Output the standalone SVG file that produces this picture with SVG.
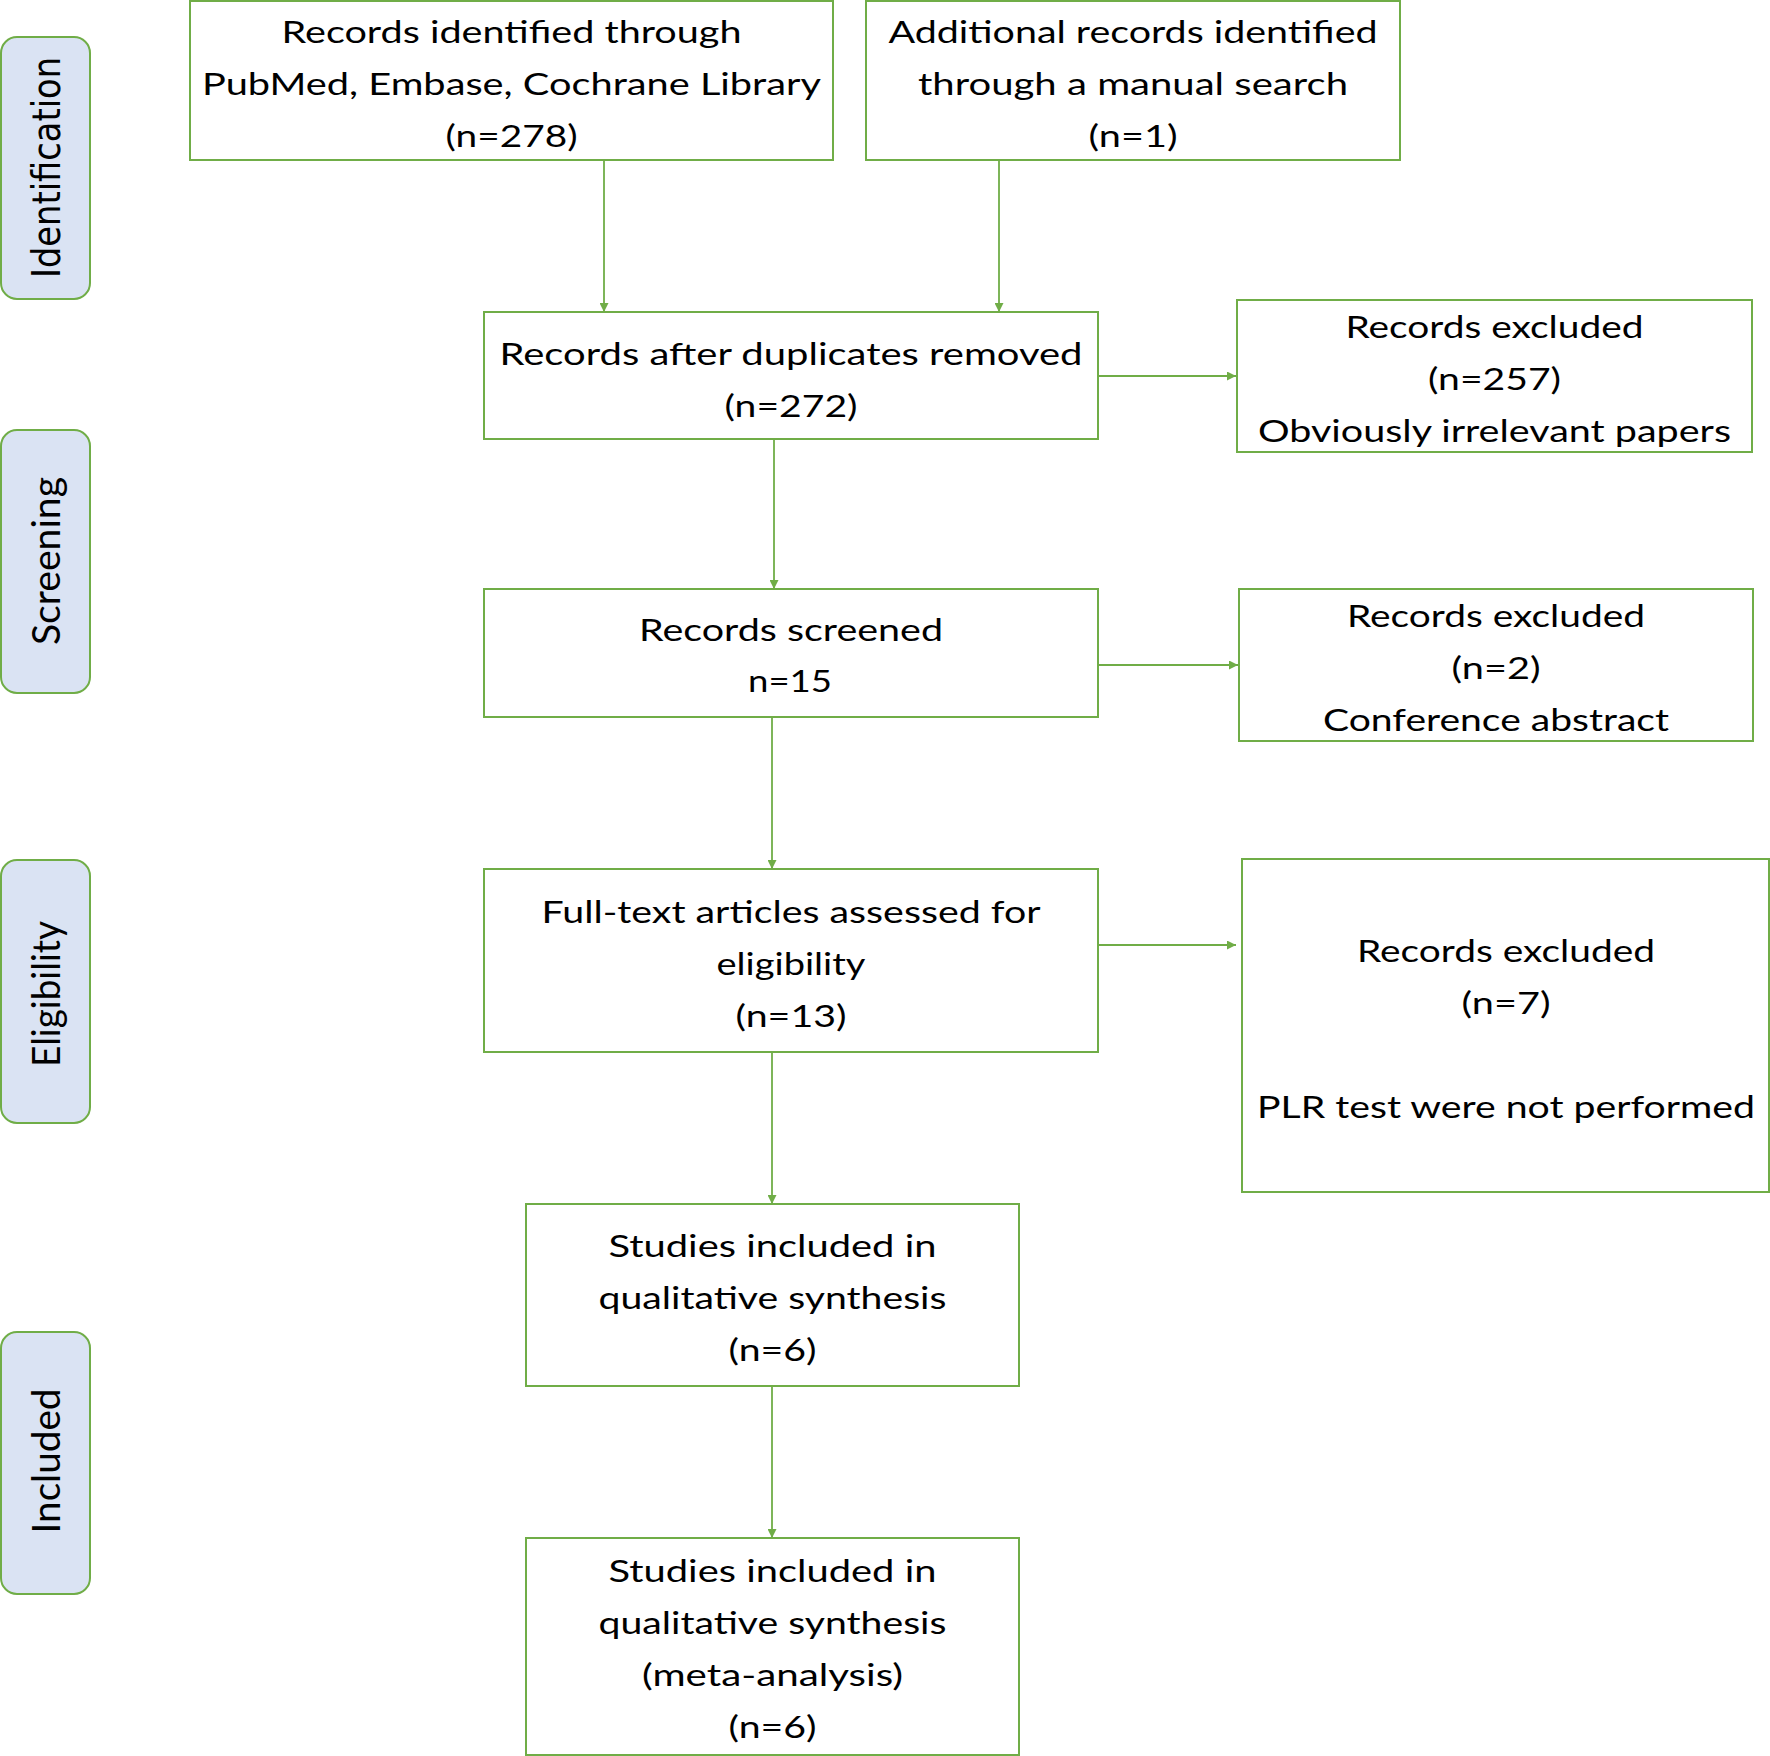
<svg xmlns="http://www.w3.org/2000/svg" width="1770" height="1756" viewBox="0 0 1770 1756">
<style>
.box{fill:#FFFFFF;stroke:#70AD47;stroke-width:2}
.pill{fill:#DAE3F3;stroke:#70AD47;stroke-width:2}
.t{font-family:Lato,"Open Sans","Liberation Sans",sans-serif;font-size:31.5px;fill:#000000;text-anchor:middle}
.lbl{font-family:Lato,"Open Sans","Liberation Sans",sans-serif;font-size:32px;fill:#000000;text-anchor:middle}
.lbl2{font-family:"DejaVu Sans",Verdana,sans-serif;font-size:32px;fill:#000000;text-anchor:middle}
.c{fill:none;stroke:#70AD47;stroke-width:1.8}
</style>
<defs>
<marker id="ah" viewBox="0 0 10 10" refX="10" refY="5" markerWidth="10" markerHeight="9" markerUnits="userSpaceOnUse" orient="auto">
<path d="M0,0 L10,5 L0,10 Z" fill="#70AD47"/>
</marker>
</defs>
<rect width="1770" height="1756" fill="#FFFFFF"/>

<g id="phase-identification">
<rect class="pill" x="1" y="37" width="89" height="262" rx="16" ry="16"/>
<text class="lbl2" transform="translate(60,167.5) rotate(-90) scale(1,1.2)" textLength="221" lengthAdjust="spacingAndGlyphs">Identification</text>
</g>
<g id="phase-screening">
<rect class="pill" x="1" y="430" width="89" height="263" rx="16" ry="16"/>
<text class="lbl" transform="translate(60,561) rotate(-90) scale(1,1.22)" textLength="168" lengthAdjust="spacingAndGlyphs">Screening</text>
</g>
<g id="phase-eligibility">
<rect class="pill" x="1" y="860" width="89" height="263" rx="16" ry="16"/>
<text class="lbl" transform="translate(60,994) rotate(-90) scale(1,1.22)" textLength="146" lengthAdjust="spacingAndGlyphs">Eligibility</text>
</g>
<g id="phase-included">
<rect class="pill" x="1" y="1332" width="89" height="262" rx="16" ry="16"/>
<text class="lbl" transform="translate(60,1461) rotate(-90) scale(1,1.22)" textLength="145" lengthAdjust="spacingAndGlyphs">Included</text>
</g>

<g id="connectors">
<line class="c" x1="604" y1="160" x2="604" y2="312" marker-end="url(#ah)"/>
<line class="c" x1="999" y1="160" x2="999" y2="312" marker-end="url(#ah)"/>
<line class="c" x1="1098" y1="376" x2="1236" y2="376" marker-end="url(#ah)"/>
<line class="c" x1="774" y1="440" x2="774" y2="589" marker-end="url(#ah)"/>
<line class="c" x1="1098" y1="665" x2="1238" y2="665" marker-end="url(#ah)"/>
<line class="c" x1="772" y1="718" x2="772" y2="869" marker-end="url(#ah)"/>
<line class="c" x1="1098" y1="945" x2="1236" y2="945" marker-end="url(#ah)"/>
<line class="c" x1="772" y1="1053" x2="772" y2="1204" marker-end="url(#ah)"/>
<line class="c" x1="772" y1="1387" x2="772" y2="1538" marker-end="url(#ah)"/>
</g>

<g id="node-identified-databases">
<rect class="box" x="190" y="1" width="643" height="159"/>
<text class="t" x="511.5" y="43" textLength="460" lengthAdjust="spacingAndGlyphs">Records identified through</text>
<text class="t" x="511.5" y="95" textLength="619" lengthAdjust="spacingAndGlyphs">PubMed, Embase, Cochrane Library</text>
<text class="t" x="511.5" y="147" textLength="132" lengthAdjust="spacingAndGlyphs">(n=278)</text>
</g>
<g id="node-identified-manual">
<rect class="box" x="866" y="1" width="534" height="159"/>
<text class="t" x="1133" y="43" textLength="489" lengthAdjust="spacingAndGlyphs">Additional records identified</text>
<text class="t" x="1133" y="95" textLength="430" lengthAdjust="spacingAndGlyphs">through a manual search</text>
<text class="t" x="1133" y="147" textLength="89" lengthAdjust="spacingAndGlyphs">(n=1)</text>
</g>
<g id="node-duplicates-removed">
<rect class="box" x="484" y="312" width="614" height="127"/>
<text class="t" x="791" y="365" textLength="583" lengthAdjust="spacingAndGlyphs">Records after duplicates removed</text>
<text class="t" x="791" y="417" textLength="133" lengthAdjust="spacingAndGlyphs">(n=272)</text>
</g>
<g id="node-excluded-257">
<rect class="box" x="1237" y="300" width="515" height="152"/>
<text class="t" x="1494.5" y="338" textLength="298" lengthAdjust="spacingAndGlyphs">Records excluded</text>
<text class="t" x="1494.5" y="390" textLength="133" lengthAdjust="spacingAndGlyphs">(n=257)</text>
<text class="t" x="1494.5" y="442" textLength="473" lengthAdjust="spacingAndGlyphs">Obviously irrelevant papers</text>
</g>
<g id="node-screened">
<rect class="box" x="484" y="589" width="614" height="128"/>
<text class="t" x="791" y="641" textLength="304" lengthAdjust="spacingAndGlyphs">Records screened</text>
<text class="t" x="790" y="692" textLength="84" lengthAdjust="spacingAndGlyphs">n=15</text>
</g>
<g id="node-excluded-2">
<rect class="box" x="1239" y="589" width="514" height="152"/>
<text class="t" x="1496" y="627" textLength="298" lengthAdjust="spacingAndGlyphs">Records excluded</text>
<text class="t" x="1496" y="679" textLength="89" lengthAdjust="spacingAndGlyphs">(n=2)</text>
<text class="t" x="1496" y="731" textLength="346" lengthAdjust="spacingAndGlyphs">Conference abstract</text>
</g>
<g id="node-full-text">
<rect class="box" x="484" y="869" width="614" height="183"/>
<text class="t" x="791" y="923" textLength="499" lengthAdjust="spacingAndGlyphs">Full-text articles assessed for</text>
<text class="t" x="791" y="975" textLength="149" lengthAdjust="spacingAndGlyphs">eligibility</text>
<text class="t" x="791" y="1027" textLength="111" lengthAdjust="spacingAndGlyphs">(n=13)</text>
</g>
<g id="node-excluded-7">
<rect class="box" x="1242" y="859" width="527" height="333"/>
<text class="t" x="1506" y="962" textLength="298" lengthAdjust="spacingAndGlyphs">Records excluded</text>
<text class="t" x="1506" y="1014" textLength="89" lengthAdjust="spacingAndGlyphs">(n=7)</text>
<text class="t" x="1506" y="1118" textLength="498" lengthAdjust="spacingAndGlyphs">PLR test were not performed</text>
</g>
<g id="node-qualitative">
<rect class="box" x="526" y="1204" width="493" height="182"/>
<text class="t" x="772.5" y="1257" textLength="328" lengthAdjust="spacingAndGlyphs">Studies included in</text>
<text class="t" x="772.5" y="1309" textLength="348" lengthAdjust="spacingAndGlyphs">qualitative synthesis</text>
<text class="t" x="772.5" y="1361" textLength="88" lengthAdjust="spacingAndGlyphs">(n=6)</text>
</g>
<g id="node-meta-analysis">
<rect class="box" x="526" y="1538" width="493" height="217"/>
<text class="t" x="772.5" y="1582" textLength="328" lengthAdjust="spacingAndGlyphs">Studies included in</text>
<text class="t" x="772.5" y="1634" textLength="348" lengthAdjust="spacingAndGlyphs">qualitative synthesis</text>
<text class="t" x="772.5" y="1686" textLength="261" lengthAdjust="spacingAndGlyphs">(meta-analysis)</text>
<text class="t" x="772.5" y="1738" textLength="88" lengthAdjust="spacingAndGlyphs">(n=6)</text>
</g>
</svg>
